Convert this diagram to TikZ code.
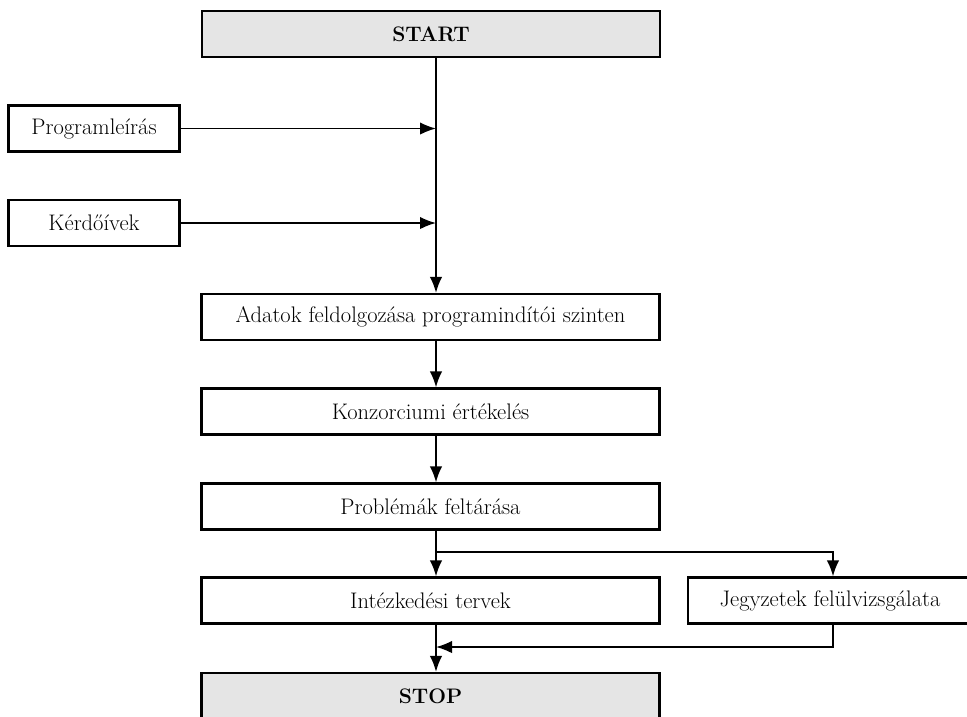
\documentclass[tikz,border=0pt]{standalone}
\usetikzlibrary{arrows.meta}
\begin{document}
\begin{tikzpicture}[x=1pt,y=-1pt,
  box/.style={draw, line width=2.3pt, inner sep=0pt, minimum height=46pt,
    font=\fontsize{22.5}{26}\selectfont, anchor=center},
  wide/.style={box, minimum width=458pt},
  side/.style={box, minimum width=171pt},
  term/.style={wide, fill=black!10, font=\fontsize{21}{25}\selectfont\bfseries},
  arr/.style={line width=1.7pt, -{Latex[length=16pt,width=12.5pt]}},
  ln/.style={line width=1.7pt}]
\useasboundingbox (0,0) rectangle (967,716);
\coordinate (spine) at (436,0);
\node[term] (start) at (431,34) {START};
\node[side] (prog) at (94,128.5) {Programleírás};
\node[side] (kerd) at (94,223) {Kérdőívek};
\node[wide] (adat) at (430.5,317) {Adatok feldolgozása programindítói szinten};
\node[wide] (konz) at (430.5,411.5) {Konzorciumi értékelés};
\node[wide] (prob) at (430.5,506.5) {Problémák feltárása};
\node[wide] (intez) at (430.5,600.5) {Intézkedési tervek};
\node[box, minimum width=284pt] (jegy) at (830,600.5) {Jegyzetek felülvizsgálata};
\node[term] (stop) at (430.5,696) {STOP};
\coordinate (split) at (436,552);
\coordinate (ret) at (833,647);
\draw[arr] (start.south -| spine) -- (adat.north -| spine);
\draw[arr] (prog.east) -- (prog.east -| spine);
\draw[arr] (kerd.east) -- (kerd.east -| spine);
\draw[arr] (adat.south -| spine) -- (konz.north -| spine);
\draw[arr] (konz.south -| spine) -- (prob.north -| spine);
\draw[arr] (prob.south -| spine) -- (intez.north -| spine);
\draw[arr] (split) -| (jegy.north -| ret);
\draw[arr] (intez.south -| spine) -- (stop.north -| spine);
\draw[arr] (jegy.south -| ret) -- (ret) -- (ret -| spine);
\end{tikzpicture}
\end{document}
